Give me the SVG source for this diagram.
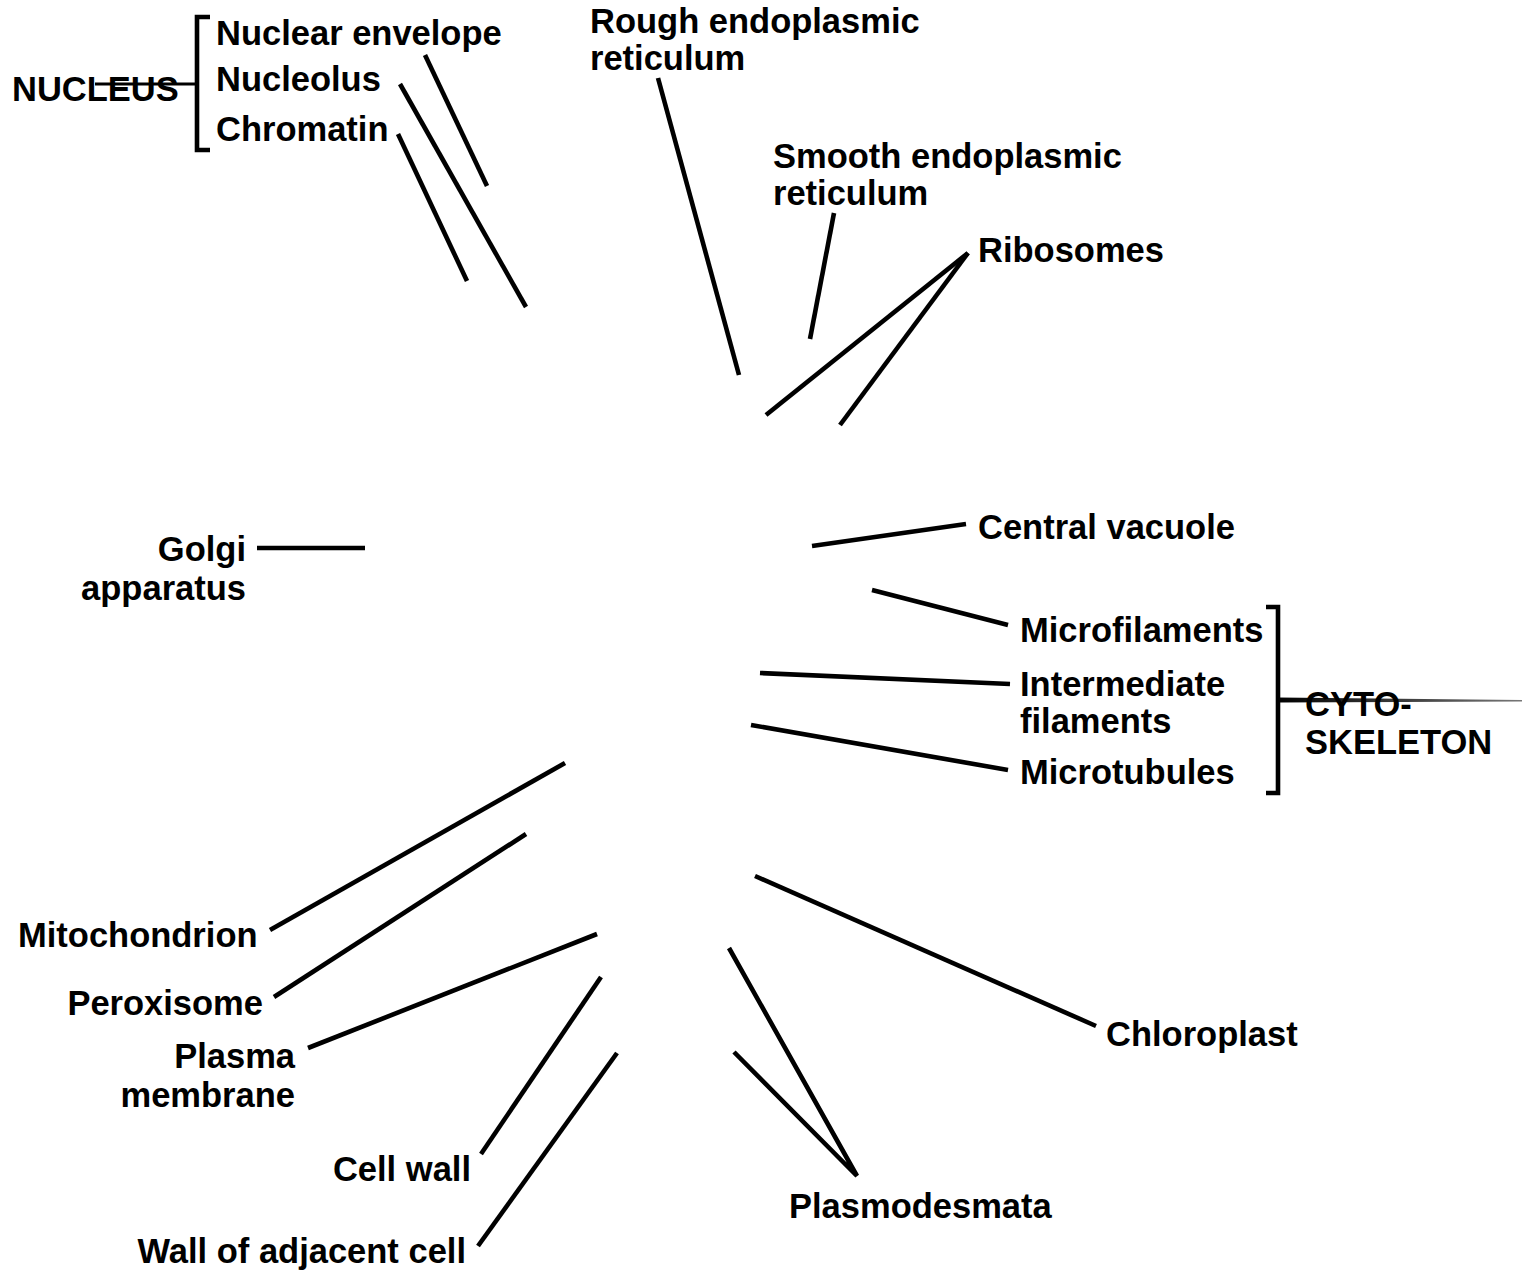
<svg xmlns="http://www.w3.org/2000/svg" width="1522" height="1272" viewBox="0 0 1522 1272">
<defs>
<style>
text{font-family:"Liberation Sans",Arial,sans-serif;font-weight:bold;font-size:34.5px;fill:#000}
.e{text-anchor:end}
.c line,.c polyline{stroke:#000;stroke-width:4.6;fill:none}
</style>
<linearGradient id="fade" x1="0" y1="0" x2="1" y2="0">
<stop offset="0" stop-color="#000"/>
<stop offset="1" stop-color="#777"/>
</linearGradient>
</defs>
<rect width="1522" height="1272" fill="#fff"/>
<g id="connectors" class="c">
<line x1="425" y1="55" x2="487" y2="186"/>
<line x1="400" y1="84" x2="526" y2="307"/>
<line x1="398" y1="134" x2="467" y2="281"/>
<line x1="658" y1="78" x2="739" y2="375"/>
<line x1="834" y1="213" x2="810" y2="339"/>
<line x1="968" y1="253" x2="766" y2="415"/>
<line x1="968" y1="253" x2="840" y2="425"/>
<line x1="966" y1="524" x2="812" y2="546"/>
<line x1="1008" y1="625" x2="872" y2="590"/>
<line x1="1010" y1="684" x2="760" y2="673"/>
<line x1="1008" y1="770" x2="751" y2="725"/>
<line x1="257" y1="548" x2="365" y2="548"/>
<line x1="270" y1="930" x2="565" y2="763"/>
<line x1="274" y1="997" x2="526" y2="834"/>
<line x1="308" y1="1048" x2="597" y2="934"/>
<line x1="481" y1="1154" x2="601" y2="977"/>
<line x1="478" y1="1246" x2="617" y2="1053"/>
<line x1="1096" y1="1026" x2="755" y2="876"/>
<polyline points="729,948 857,1176 734,1052"/>
</g>
<g id="nucleus">
<text x="12" y="101">NUCLEUS</text>
<polyline points="210,17 197,17 197,150 210,150" stroke="#000" stroke-width="4.6" fill="none"/>
<line x1="95" y1="84" x2="197" y2="84" stroke="#000" stroke-width="3"/>
</g>
<g id="nuclear-envelope"><text x="216" y="45">Nuclear envelope</text></g>
<g id="nucleolus"><text x="216" y="91">Nucleolus</text></g>
<g id="chromatin"><text x="216" y="141">Chromatin</text></g>
<g id="rough-er"><text x="590" y="33">Rough endoplasmic</text><text x="590" y="70">reticulum</text></g>
<g id="smooth-er"><text x="773" y="168">Smooth endoplasmic</text><text x="773" y="205">reticulum</text></g>
<g id="ribosomes"><text x="978" y="262">Ribosomes</text></g>
<g id="central-vacuole"><text x="978" y="539">Central vacuole</text></g>
<g id="microfilaments"><text x="1020" y="642">Microfilaments</text></g>
<g id="intermediate-filaments"><text x="1020" y="696">Intermediate</text><text x="1020" y="733">filaments</text></g>
<g id="microtubules"><text x="1020" y="784">Microtubules</text></g>
<g id="cytoskeleton">
<polyline points="1266,607 1278,607 1278,793 1266,793" stroke="#000" stroke-width="4.6" fill="none"/>
<polygon points="1278,697.5 1522,700 1522,701.5 1278,702.5" fill="url(#fade)"/>
<text x="1305" y="716">CYTO-</text><text x="1305" y="754">SKELETON</text>
</g>
<g id="golgi"><text class="e" x="246" y="561">Golgi</text><text class="e" x="246" y="600">apparatus</text></g>
<g id="mitochondrion"><text x="18" y="947">Mitochondrion</text></g>
<g id="peroxisome"><text class="e" x="263" y="1015">Peroxisome</text></g>
<g id="plasma-membrane"><text class="e" x="295" y="1068">Plasma</text><text class="e" x="295" y="1107">membrane</text></g>
<g id="cell-wall"><text class="e" x="471" y="1181">Cell wall</text></g>
<g id="wall-adjacent"><text class="e" x="466" y="1263">Wall of adjacent cell</text></g>
<g id="chloroplast"><text x="1106" y="1046">Chloroplast</text></g>
<g id="plasmodesmata"><text x="789" y="1218">Plasmodesmata</text></g>
</svg>
